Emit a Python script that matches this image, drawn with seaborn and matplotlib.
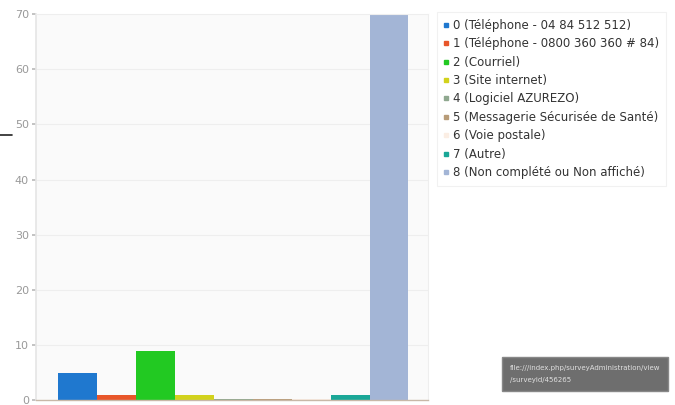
import matplotlib
matplotlib.use("Agg")
import matplotlib.pyplot as plt
import seaborn as sns
import pandas as pd
from matplotlib.lines import Line2D

categories = [
    "0 (Téléphone - 04 84 512 512)",
    "1 (Téléphone - 0800 360 360 # 84)",
    "2 (Courriel)",
    "3 (Site internet)",
    "4 (Logiciel AZUREZO)",
    "5 (Messagerie Sécurisée de Santé)",
    "6 (Voie postale)",
    "7 (Autre)",
    "8 (Non complété ou Non affiché)",
]
values = [5, 1, 9, 1, 0.15, 0.15, 0.15, 1, 70]
colors = ["#1f78cf", "#e8562a", "#22c922", "#d2d21c", "#8fa88f",
          "#b89c78", "#fbeee4", "#1aa797", "#a3b5d6"]
yticks = [0, 10, 20, 30, 40, 50, 60, 70]
note = "file:///index.php/surveyAdministration/view\n/surveyid/456265"

sns.set_theme(style="white")
plt.rcParams['font.family'] = ['DejaVu Sans']

df = pd.DataFrame({"cat": categories, "val": values})

fig = plt.figure(figsize=(6.75, 4.05), dpi=100)
fig.patch.set_facecolor("white")
ax = fig.add_axes([0.053, 0.012, 0.581, 0.953])
ax.set_facecolor("#fafafa")

sns.barplot(data=df, x="cat", y="val", hue="cat", palette=colors,
            dodge=False, width=1.0, legend=False, ax=ax, saturation=1,
            linewidth=0, edgecolor="none")

ax.set_xlim(-1.07, 9.0)
ax.set_ylim(0, 70)
ax.set_yticks(yticks)
ax.set_yticklabels([str(t) for t in yticks], color="#999999", fontsize=8)
ax.set_xticks([])
ax.set_xlabel("")
ax.set_ylabel("")
ax.tick_params(axis="y", length=3, color="#bbbbbb", pad=2, left=True)
for t in yticks[1:-1]:
    ax.axhline(t, color="#eeeeee", lw=0.8, zorder=0)
for s in ["top", "right"]:
    ax.spines[s].set_color("#eeeeee")
    ax.spines[s].set_linewidth(0.8)
ax.spines["left"].set_color("#e6e6e6")
ax.spines["bottom"].set_color("#c8b8a8")
ax.spines["bottom"].set_linewidth(1.0)

handles = [Line2D([0], [0], marker="s", linestyle="", markersize=3.5,
                  markerfacecolor=c, markeredgecolor=c) for c in colors]
leg = fig.legend(handles, categories, loc="upper left",
                 bbox_to_anchor=(0.642, 0.978), fontsize=8.45,
                 frameon=True, handlelength=0.5, handletextpad=0.35,
                 labelspacing=0.46, borderpad=0.55, borderaxespad=0.3,
                 fancybox=False)
leg.get_frame().set_edgecolor("#eeeeee")
leg.get_frame().set_linewidth(0.8)
for t in leg.get_texts():
    t.set_color("#333333")

fig.text(0.7556, 0.0765, note, fontsize=5.0, color="#e0e0e0", va="center",
         ha="left", linespacing=2.2,
         bbox=dict(boxstyle="square,pad=1.1", facecolor="#6e6e6e",
                   edgecolor="#888888"))

fig.add_artist(Line2D([0, 0.018], [0.667, 0.667], color="#222222", lw=1.2))

fig.savefig("out.png", dpi=100)
